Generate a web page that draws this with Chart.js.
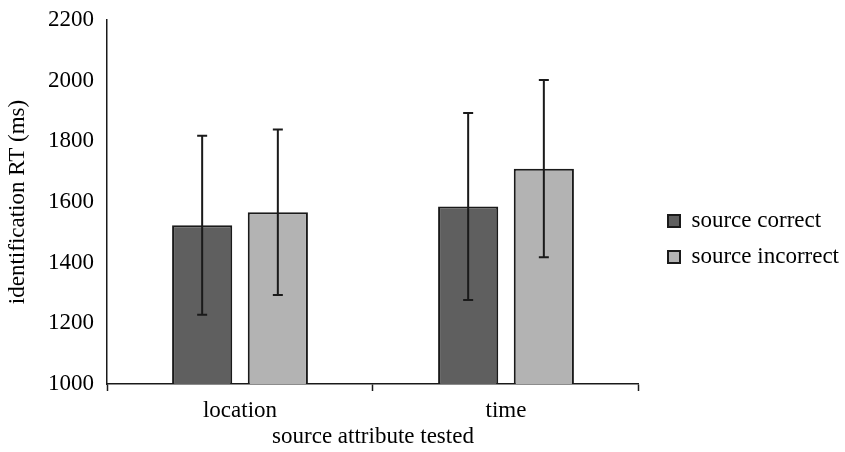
<!DOCTYPE html>
<html>
<head>
<meta charset="utf-8">
<script src="https://cdn.jsdelivr.net/npm/chart.js@4/dist/chart.umd.min.js"></script>
<style>
  html, body { margin: 0; padding: 0; background: #fff; }
  #wrap { width: 845px; height: 452px; }
</style>
</head>
<body>
<div id="wrap"><canvas id="c"></canvas></div>
<script>
const categories = ["location", "time"];
const correctMeans = [1523, 1585];
const correctErr = [295, 308];
const incorrectMeans = [1566, 1710];
const incorrectErr = [273, 292];
const yTicks = [1000, 1200, 1400, 1600, 1800, 2000, 2200];

const FONT = "'Liberation Serif', 'Times New Roman', serif";
const INK = "#1a1a1a";

// draws the error bars from each dataset's err array, via the y scale
const errorBars = {
  id: "errorBars",
  afterDatasetsDraw(chart) {
    const ctx = chart.ctx;
    const y = chart.scales.y;
    chart.data.datasets.forEach((ds, i) => {
      const meta = chart.getDatasetMeta(i);
      meta.data.forEach((bar, j) => {
        const hi = y.getPixelForValue(ds.data[j] + ds.err[j]);
        const lo = y.getPixelForValue(ds.data[j] - ds.err[j]);
        ctx.save();
        ctx.strokeStyle = INK;
        ctx.lineWidth = 2;
        ctx.beginPath();
        ctx.moveTo(bar.x, hi); ctx.lineTo(bar.x, lo);
        ctx.moveTo(bar.x - 5, hi); ctx.lineTo(bar.x + 5, hi);
        ctx.moveTo(bar.x - 5, lo); ctx.lineTo(bar.x + 5, lo);
        ctx.stroke();
        ctx.restore();
      });
    });
  }
};

// nudge the legend column to where it sits in the original figure
const legendNudge = {
  id: "legendNudge",
  afterLayout(chart) {
    const lg = chart.legend;
    const w = lg.right - lg.left;
    lg.left = 655; lg.right = lg.left + w;
    lg.top += 3; lg.bottom += 3;
  }
};

new Chart(document.getElementById("c"), {
  type: "bar",
  data: {
    labels: categories,
    datasets: [
      {
        label: "source correct",
        data: correctMeans,
        err: correctErr,
        backgroundColor: "#5f5f5f",
        borderColor: INK,
        borderWidth: 2,
      },
      {
        label: "source incorrect",
        data: incorrectMeans,
        err: incorrectErr,
        backgroundColor: "#b3b3b3",
        borderColor: INK,
        borderWidth: 2,
      },
    ],
  },
  plugins: [errorBars, legendNudge],
  options: {
    responsive: true,
    maintainAspectRatio: false,
    animation: false,
    layout: { padding: { top: 20, right: 12, left: 0, bottom: 0 } },
    datasets: { bar: { categoryPercentage: 0.569, barPercentage: 0.795 } },
    plugins: {
      tooltip: { enabled: false },
      legend: {
        position: "right",
        labels: {
          boxWidth: 12,
          boxHeight: 12,
          padding: 13,
          color: "#000",
          font: { family: FONT, size: 23 },
        },
      },
    },
    scales: {
      x: {
        grid: {
          display: true,
          drawOnChartArea: false,
          offset: true,
          tickLength: 7,
          tickColor: INK,
          tickWidth: 1.5,
        },
        border: { color: INK, width: 1.5 },
        ticks: { color: "#000", font: { family: FONT, size: 23 }, padding: 6 },
        title: {
          display: true,
          text: "source attribute tested",
          color: "#000",
          font: { family: FONT, size: 23 },
          padding: { top: 0, bottom: 1 },
        },
        afterFit(scale) { scale.height = 68; },
      },
      y: {
        min: 1000,
        max: 2200,
        afterBuildTicks(scale) { scale.ticks = yTicks.map(v => ({ value: v })); },
        grid: { display: false, drawTicks: false },
        border: { color: INK, width: 1.5 },
        ticks: {
          color: "#000",
          font: { family: FONT, size: 23 },
          padding: 13,
          callback: (v) => String(v),
        },
        title: {
          display: true,
          text: "identification RT (ms)",
          color: "#000",
          font: { family: FONT, size: 23 },
          padding: { top: 4, bottom: 8 },
        },
        afterFit(scale) {
          scale.width = 107;
          scale.paddingTop = 0;
        },
      },
    },
  },
});
</script>
</body>
</html>
